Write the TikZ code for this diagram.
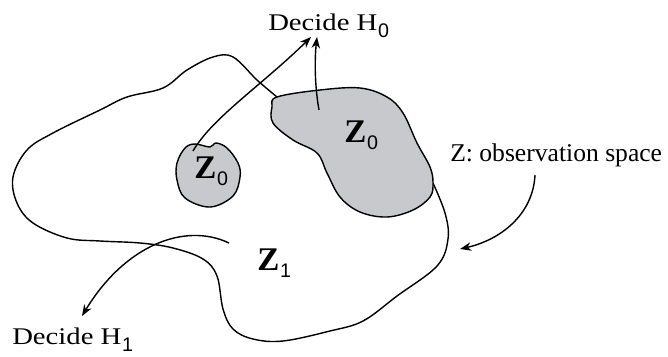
\documentclass[tikz,border=0pt]{standalone}
\usepackage{fontspec}
\setmainfont{Liberation Serif}
\newfontfamily\decfont[FakeStretch=1.2]{Liberation Serif}
\newfontfamily\digfont{Liberation Sans}
\usepackage{xcolor}
\usetikzlibrary{arrows.meta}
\definecolor{regiongray}{RGB}{200,201,204}
\newcommand{\lowsub}[1]{\kern0.5pt\raisebox{-5pt}{\fontsize{14}{14}\mdseries\digfont #1}}

\begin{document}
\begin{tikzpicture}[x=0.025cm,y=-0.025cm,
  border/.style={line width=1pt},
  region/.style={draw,line width=1pt,fill=regiongray},
  pointer/.style={-{Stealth[length=8pt,width=6pt]},line width=1pt},
  zlab/.style={anchor=base west,inner sep=0pt,font=\fontsize{23.5}{24}\selectfont\bfseries},
  dlab/.style={anchor=base west,inner sep=0pt,font=\fontsize{17}{17}\decfont}]
 \useasboundingbox (0,0) rectangle (668,356);
 \draw[border] plot[smooth,tension=0.6] coordinates {(433,183) (445,213) (448,239) (437,266) (397,296) (363,321) (330,331) (283,341) (253,339) (233,329) (223,309) (217,276) (203,259) (173,248) (140,243) (100,241) (67,238) (33,223) (17,203) (13,177) (27,150) (53,133) (100,110) (127,97) (163,88) (187,70) (213,57) (233,57) (257,80) (277,97)};
 \draw[region] plot[smooth cycle,tension=0.6] coordinates {(277,97) (320,90) (360,88) (387,97) (403,113) (417,143) (430,167) (433,183) (430,197) (413,210) (387,217) (360,212) (340,197) (327,173) (317,153) (293,140) (273,123) (272,107)};
 \draw[region] plot[smooth cycle,tension=0.6] coordinates {(185,148) (195,144) (210,147) (216,143) (227,148) (238,163) (240,177) (233,196) (210,207) (185,198) (177,180) (177,163)};
 \node[zlab] (zsmall) at (194,178) {Z\lowsub{0}};
 \node[zlab] (zbig) at (344,142) {Z\lowsub{0}};
 \node[zlab] (zone) at (257,270) {Z\lowsub{1}};
 \node[dlab] (dh0) at (268,30) {Decide H\lowsub{0}};
 \node[dlab] (dh1) at (12,344) {Decide H\lowsub{1}};
 \node[anchor=base west,inner sep=0pt,font=\fontsize{18.2}{18}\selectfont] (obs) at (450,161) {Z: observation space};
 \coordinate (fromsmall) at (193,151);
 \coordinate (frombig) at (319,110);
 \coordinate (fromone) at (229,243);
 \coordinate (tipa) at (311,37);
 \coordinate (tipb) at (317,37);
 \coordinate (tipc) at (82,316);
 \coordinate (tipd) at (460,249);
 \coordinate (fromobs) at (535,175);
 \draw[pointer] (fromsmall) .. controls (212,118) and (262,85) .. (tipa);
 \draw[pointer] (frombig) .. controls (314,82) and (315,55) .. (tipb);
 \draw[pointer] (fromone) .. controls (185,222) and (125,245) .. (tipc);
 \draw[pointer] (fromobs) .. controls (533,215) and (500,240) .. (tipd);
\end{tikzpicture}
\end{document}
